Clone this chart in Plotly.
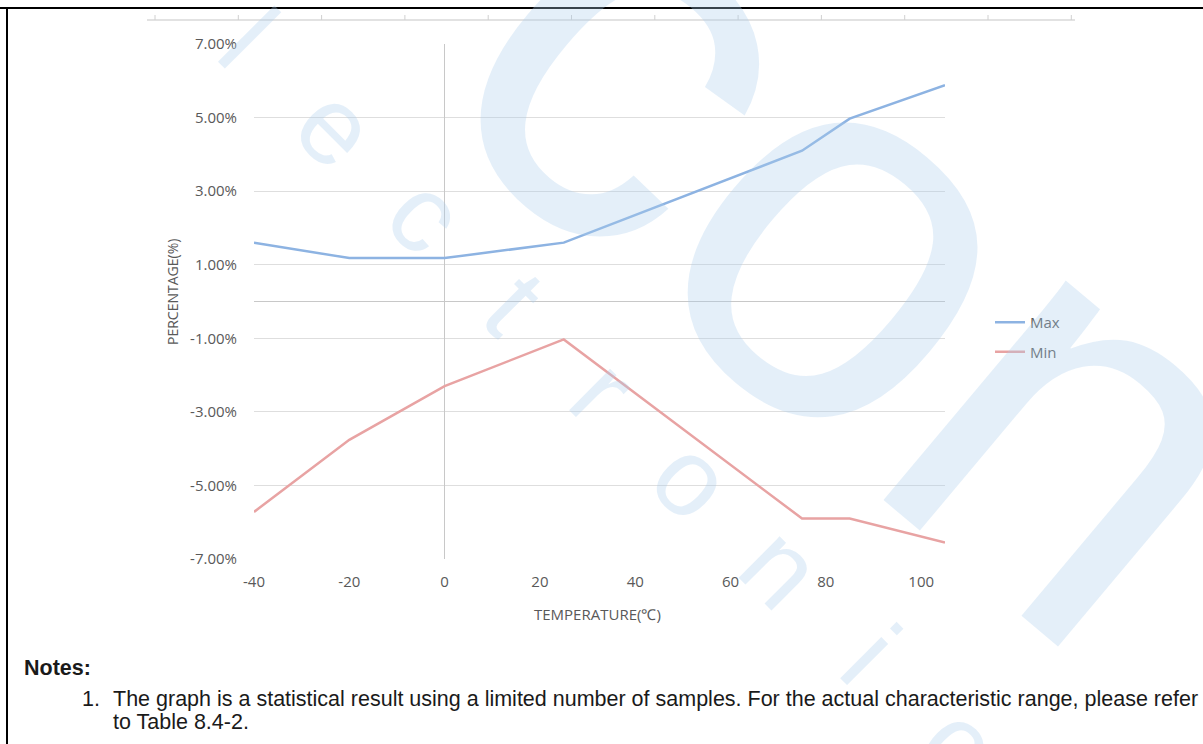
import plotly.graph_objects as go

# temperature points and Max/Min drift (%)
temps = [-40, -20, 0, 25, 75, 85, 105]
max_pct = [1.60, 1.18, 1.18, 1.60, 4.10, 4.97, 5.88]
min_pct = [-5.72, -3.76, -2.30, -1.03, -5.90, -5.90, -6.55]

x_ticks = [-40, -20, 0, 20, 40, 60, 80, 100]
x_labels = [str(v) for v in x_ticks]
y_ticks = [-7, -5, -3, -1, 1, 3, 5, 7]
y_labels = [f"{v:.2f}%" for v in y_ticks]

W, H = 1203, 744
L, R, T, B = 254, 945, 44, 559  # plot area, px


def pp(x, y):
    """page pixel -> paper coords"""
    return (x - L) / (R - L), (B - y) / (B - T)


def note(x, y, text, font, **kw):
    px_, py_ = pp(x, y)
    d = dict(x=px_, y=py_, xref="paper", yref="paper", text=text, showarrow=False,
             xanchor="center", yanchor="middle", font=font)
    d.update(kw)
    return d


TICK_FONT = dict(family="Open Sans", size=15, color="#595959")
WM = "rgba(170,205,235,0.32)"

fig = go.Figure()

fig.add_trace(go.Scatter(
    x=temps, y=max_pct, mode="lines", name="Max",
    line=dict(color="#8db3e2", width=2.5), legendgroup="a",
))
fig.add_trace(go.Scatter(
    x=temps, y=min_pct, mode="lines", name="Min",
    line=dict(color="#e8a3a3", width=2.5), legendgroup="b",
))

shapes = []
# page frame
x0, y0 = pp(0, 8)
x1, _ = pp(W, 8)
shapes.append(dict(type="line", xref="paper", yref="paper", x0=x0, x1=x1, y0=y0, y1=y0,
                   line=dict(color="black", width=2)))
xa, ya = pp(7, 8)
_, yb = pp(7, H + 5)
shapes.append(dict(type="line", xref="paper", yref="paper", x0=xa, x1=xa, y0=ya, y1=yb,
                   line=dict(color="black", width=2)))
# faint ruler left over from the page above
ra, ry = pp(147, 20)
rb, _ = pp(1075, 20)
shapes.append(dict(type="line", xref="paper", yref="paper", x0=ra, x1=rb, y0=ry, y1=ry,
                   line=dict(color="#d9d9d9", width=1.5)))
for k in range(12):
    tx, ty0 = pp(155 + k * 83.3, 20)
    _, ty1 = pp(155, 15)
    shapes.append(dict(type="line", xref="paper", yref="paper", x0=tx, x1=tx, y0=ty0, y1=ty1,
                       line=dict(color="#d0d0d0", width=1)))

annotations = []

# watermark: big "con" + spaced small "electronics"
annotations.append(note(872, 245, "con", dict(family="Liberation Sans", size=540, color=WM),
                        textangle=40))
for i, ch in enumerate("electronics"):
    annotations.append(note(152 + 89 * i + 7, -41 + 88 * i - 9, ch,
                            dict(family="Liberation Sans", size=110, color=WM), textangle=45))

# axis titles
annotations.append(note(172, 292, "PERCENTAGE(%)",
                        dict(family="Open Sans", size=14, color="#595959"), textangle=-90))
annotations.append(note(597, 614, "TEMPERATURE(℃)",
                        dict(family="Open Sans", size=15, color="#595959")))

# notes block
NOTE_FONT = dict(family="Liberation Sans", size=21.5, color="#1a1a1a")
annotations.append(note(22, 668, "<b>Notes:</b>", NOTE_FONT, xanchor="left"))
annotations.append(note(80, 699, "1.", NOTE_FONT, xanchor="left"))
annotations.append(note(111, 699,
                        "The graph is a statistical result using a limited number of samples. "
                        "For the actual characteristic range, please refer",
                        NOTE_FONT, xanchor="left"))
annotations.append(note(111, 722, "to Table 8.4-2.", NOTE_FONT, xanchor="left"))

lgx, lgy = pp(990, 306)

fig.update_layout(
    width=W, height=H,
    margin=dict(l=L, r=W - R, t=T, b=H - B, pad=0),
    paper_bgcolor="white",
    plot_bgcolor="rgba(0,0,0,0)",
    showlegend=True,
    legend=dict(x=lgx, y=lgy, xanchor="left", yanchor="top", xref="paper", yref="paper",
                font=dict(family="Open Sans", size=15, color="#595959"),
                bgcolor="rgba(0,0,0,0)", tracegroupgap=7, traceorder="grouped"),
    xaxis=dict(
        range=[-40, 105], tickvals=x_ticks, ticktext=x_labels, showgrid=False,
        zeroline=True, zerolinecolor="#c8c8c8", zerolinewidth=1,
        showline=False, ticks="", tickfont=TICK_FONT, ticklabelstandoff=12,
    ),
    yaxis=dict(
        range=[-7, 7], tickvals=y_ticks, ticktext=y_labels,
        showgrid=True, gridcolor="#dedede", gridwidth=1,
        zeroline=True, zerolinecolor="#c8c8c8", zerolinewidth=1,
        showline=False, ticks="", tickfont=TICK_FONT, ticklabelstandoff=16,
    ),
    shapes=shapes,
    annotations=annotations,
)

# the page body has an 8px default margin; drop it so the figure sits at 0,0
fig.write_html("out.html", config={"displayModeBar": False},
               post_script="document.body.style.margin='0';document.body.style.overflow='hidden';")
